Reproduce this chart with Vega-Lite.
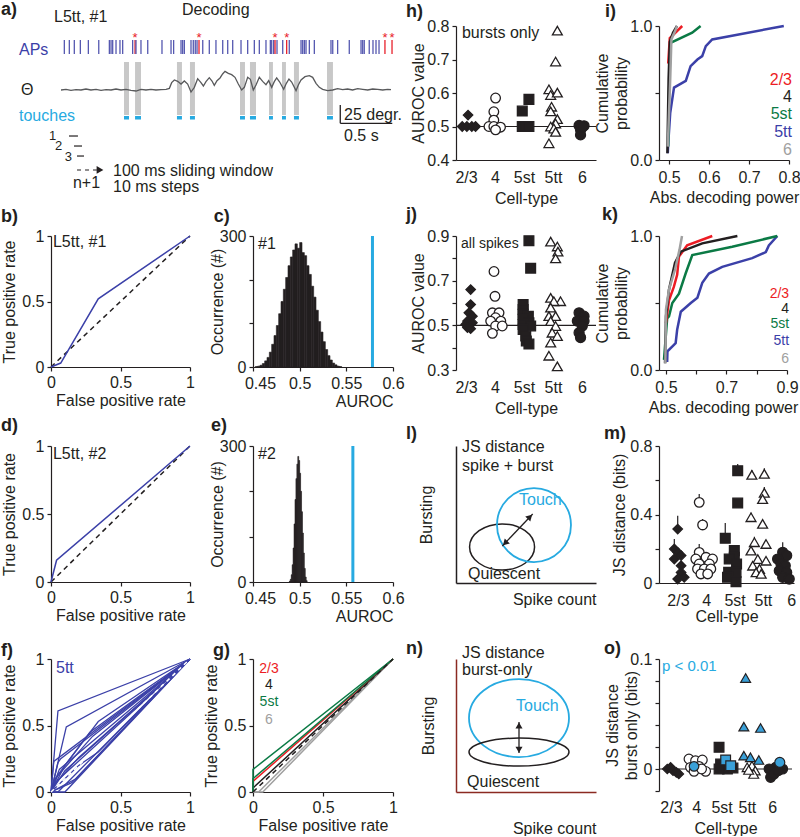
{
"$schema":"https://vega.github.io/schema/vega-lite/v6.json",
"padding":0,
"background":"white",
"columns":4,
"align":"each",
"bounds":"flush",
"spacing":{"row":76,"column":63},
"config":{
 "font":"Liberation Sans",
 "view":{"stroke":null},
 "axis":{"labelFontSize":16,"titleFontSize":16,"titleFontWeight":"normal","labelColor":"#231f20","titleColor":"#231f20","domainColor":"#231f20","tickColor":"#231f20","domainWidth":1.2,"tickWidth":1.2,"tickSize":4,"labelPadding":3,"titlePadding":2,"grid":false,"labelFlush":false,"labelOverlap":false,"titleLineHeight":19},
 "text":{"fontSize":16,"color":"#231f20","align":"left","baseline":"alphabetic"},
 "line":{"strokeWidth":1.5}
},
"datasets":{
 "touchbar":[{"x":0.606,"x2":0.654,"y":38.9,"y2":-34.7},{"x":0.712,"x2":0.769,"y":38.9,"y2":-34.7},{"x":1.115,"x2":1.163,"y":38.9,"y2":-34.7},{"x":1.240,"x2":1.288,"y":38.9,"y2":-34.7},{"x":1.721,"x2":1.769,"y":38.9,"y2":-34.7},{"x":1.817,"x2":1.875,"y":38.9,"y2":-34.7},{"x":2.0,"x2":2.038,"y":38.9,"y2":-34.7},{"x":2.125,"x2":2.163,"y":38.9,"y2":-34.7},{"x":2.240,"x2":2.288,"y":38.9,"y2":-34.7},{"x":2.558,"x2":2.615,"y":38.9,"y2":-34.7}],
 "touchmark":[{"x":0.606,"x2":0.654,"y":-36.1,"y2":-41},{"x":0.712,"x2":0.769,"y":-36.1,"y2":-41},{"x":1.115,"x2":1.163,"y":-36.1,"y2":-41},{"x":1.240,"x2":1.288,"y":-36.1,"y2":-41},{"x":1.721,"x2":1.769,"y":-36.1,"y2":-41},{"x":1.817,"x2":1.875,"y":-36.1,"y2":-41},{"x":2.0,"x2":2.038,"y":-36.1,"y2":-41},{"x":2.125,"x2":2.163,"y":-36.1,"y2":-41},{"x":2.240,"x2":2.288,"y":-36.1,"y2":-41},{"x":2.558,"x2":2.615,"y":-36.1,"y2":-41}],
 "aps":[{"x":0.032,"y":69.4,"y2":50,"burst":false},{"x":0.080,"y":69.4,"y2":50,"burst":false},{"x":0.128,"y":69.4,"y2":50,"burst":false},{"x":0.186,"y":69.4,"y2":50,"burst":false},{"x":0.263,"y":69.4,"y2":50,"burst":false},{"x":0.363,"y":69.4,"y2":50,"burst":false},{"x":0.465,"y":69.4,"y2":50,"burst":false},{"x":0.481,"y":69.4,"y2":50,"burst":false},{"x":0.497,"y":69.4,"y2":50,"burst":false},{"x":0.529,"y":69.4,"y2":50,"burst":false},{"x":0.567,"y":69.4,"y2":50,"burst":false},{"x":0.593,"y":69.4,"y2":50,"burst":false},{"x":0.689,"y":69.4,"y2":50,"burst":false},{"x":0.712,"y":69.4,"y2":50,"burst":true},{"x":0.721,"y":69.4,"y2":50,"burst":false},{"x":0.769,"y":69.4,"y2":50,"burst":false},{"x":0.834,"y":69.4,"y2":50,"burst":false},{"x":0.971,"y":69.4,"y2":50,"burst":false},{"x":1.058,"y":69.4,"y2":50,"burst":false},{"x":1.083,"y":69.4,"y2":50,"burst":false},{"x":1.154,"y":69.4,"y2":50,"burst":false},{"x":1.170,"y":69.4,"y2":50,"burst":false},{"x":1.186,"y":69.4,"y2":50,"burst":false},{"x":1.25,"y":69.4,"y2":50,"burst":false},{"x":1.272,"y":69.4,"y2":50,"burst":false},{"x":1.291,"y":69.4,"y2":50,"burst":false},{"x":1.308,"y":69.4,"y2":50,"burst":false},{"x":1.327,"y":69.4,"y2":50,"burst":true},{"x":1.363,"y":69.4,"y2":50,"burst":false},{"x":1.426,"y":69.4,"y2":50,"burst":false},{"x":1.490,"y":69.4,"y2":50,"burst":false},{"x":1.555,"y":69.4,"y2":50,"burst":false},{"x":1.603,"y":69.4,"y2":50,"burst":false},{"x":1.651,"y":69.4,"y2":50,"burst":false},{"x":1.731,"y":69.4,"y2":50,"burst":false},{"x":1.795,"y":69.4,"y2":50,"burst":false},{"x":1.859,"y":69.4,"y2":50,"burst":false},{"x":1.907,"y":69.4,"y2":50,"burst":false},{"x":1.971,"y":69.4,"y2":50,"burst":false},{"x":2.013,"y":69.4,"y2":50,"burst":false},{"x":2.026,"y":69.4,"y2":50,"burst":false},{"x":2.045,"y":69.4,"y2":50,"burst":false},{"x":2.058,"y":69.4,"y2":50,"burst":true},{"x":2.077,"y":69.4,"y2":50,"burst":false},{"x":2.132,"y":69.4,"y2":50,"burst":false},{"x":2.170,"y":69.4,"y2":50,"burst":true},{"x":2.195,"y":69.4,"y2":50,"burst":false},{"x":2.308,"y":69.4,"y2":50,"burst":false},{"x":2.324,"y":69.4,"y2":50,"burst":false},{"x":2.340,"y":69.4,"y2":50,"burst":false},{"x":2.356,"y":69.4,"y2":50,"burst":false},{"x":2.388,"y":69.4,"y2":50,"burst":false},{"x":2.436,"y":69.4,"y2":50,"burst":false},{"x":2.596,"y":69.4,"y2":50,"burst":false},{"x":2.613,"y":69.4,"y2":50,"burst":false},{"x":2.660,"y":69.4,"y2":50,"burst":false},{"x":2.772,"y":69.4,"y2":50,"burst":false},{"x":2.885,"y":69.4,"y2":50,"burst":false},{"x":2.901,"y":69.4,"y2":50,"burst":false},{"x":2.916,"y":69.4,"y2":50,"burst":false},{"x":2.964,"y":69.4,"y2":50,"burst":false},{"x":3.0,"y":69.4,"y2":50,"burst":false},{"x":3.029,"y":69.4,"y2":50,"burst":false},{"x":3.058,"y":69.4,"y2":50,"burst":false},{"x":3.115,"y":69.4,"y2":50,"burst":true},{"x":3.183,"y":69.4,"y2":50,"burst":true}],
 "stars":[{"x":0.712,"y":66.7},{"x":1.327,"y":66.7},{"x":2.058,"y":66.7},{"x":2.170,"y":66.7},{"x":3.115,"y":66.7},{"x":3.183,"y":66.7}],
 "theta":[{"x":0,"y":0},{"x":0.048,"y":0.9},{"x":0.096,"y":-0.5},{"x":0.144,"y":0.5},{"x":0.192,"y":0},{"x":0.240,"y":1.4},{"x":0.288,"y":0},{"x":0.337,"y":0.9},{"x":0.385,"y":-0.5},{"x":0.433,"y":0.5},{"x":0.481,"y":0},{"x":0.529,"y":1.4},{"x":0.577,"y":0},{"x":0.625,"y":0.9},{"x":0.673,"y":-0.5},{"x":0.721,"y":-1.4},{"x":0.769,"y":0.9},{"x":0.817,"y":0},{"x":0.865,"y":0.9},{"x":0.913,"y":0},{"x":0.962,"y":0.5},{"x":1.010,"y":0.9},{"x":1.042,"y":2.3},{"x":1.064,"y":10.2},{"x":1.090,"y":13.9},{"x":1.122,"y":12.0},{"x":1.154,"y":8.3},{"x":1.186,"y":12.5},{"x":1.218,"y":8.3},{"x":1.25,"y":-2.8},{"x":1.282,"y":3.7},{"x":1.314,"y":15.7},{"x":1.346,"y":10.2},{"x":1.369,"y":5.6},{"x":1.394,"y":11.6},{"x":1.426,"y":17.1},{"x":1.452,"y":12.5},{"x":1.474,"y":6.5},{"x":1.5,"y":13.0},{"x":1.529,"y":16.7},{"x":1.554,"y":22.2},{"x":1.577,"y":25.9},{"x":1.609,"y":23.1},{"x":1.641,"y":21.3},{"x":1.673,"y":17.6},{"x":1.705,"y":8.3},{"x":1.737,"y":0},{"x":1.763,"y":3.7},{"x":1.795,"y":17.6},{"x":1.821,"y":14.8},{"x":1.849,"y":0},{"x":1.875,"y":6.9},{"x":1.907,"y":17.6},{"x":1.939,"y":12.0},{"x":1.971,"y":7.4},{"x":1.997,"y":13.0},{"x":2.026,"y":3.7},{"x":2.051,"y":11.6},{"x":2.074,"y":16.7},{"x":2.103,"y":11.1},{"x":2.141,"y":0.9},{"x":2.167,"y":9.3},{"x":2.192,"y":15.3},{"x":2.218,"y":11.1},{"x":2.260,"y":-0.9},{"x":2.282,"y":6.9},{"x":2.308,"y":13.9},{"x":2.346,"y":18.5},{"x":2.388,"y":19.9},{"x":2.420,"y":17.6},{"x":2.452,"y":9.3},{"x":2.484,"y":3.7},{"x":2.516,"y":0.9},{"x":2.564,"y":-0.9},{"x":2.612,"y":0},{"x":2.660,"y":1.9},{"x":2.708,"y":0.5},{"x":2.756,"y":1.4},{"x":2.804,"y":0},{"x":2.853,"y":1.9},{"x":2.901,"y":0.9},{"x":2.949,"y":0},{"x":2.997,"y":1.4},{"x":3.045,"y":0.9},{"x":3.093,"y":0},{"x":3.141,"y":0.9},{"x":3.173,"y":0.5}],
 "histc":[{"x":0.4525,"x2":0.455,"y":1},{"x":0.455,"x2":0.4575,"y":2},{"x":0.4575,"x2":0.46,"y":4},{"x":0.46,"x2":0.4625,"y":8},{"x":0.4625,"x2":0.465,"y":14},{"x":0.465,"x2":0.4675,"y":22},{"x":0.4675,"x2":0.47,"y":34},{"x":0.47,"x2":0.4725,"y":52},{"x":0.4725,"x2":0.475,"y":72},{"x":0.475,"x2":0.4775,"y":95},{"x":0.4775,"x2":0.48,"y":122},{"x":0.48,"x2":0.4825,"y":150},{"x":0.4825,"x2":0.485,"y":178},{"x":0.485,"x2":0.4875,"y":205},{"x":0.4875,"x2":0.49,"y":232},{"x":0.49,"x2":0.4925,"y":252},{"x":0.4925,"x2":0.495,"y":268},{"x":0.495,"x2":0.4975,"y":282},{"x":0.4975,"x2":0.5,"y":272},{"x":0.5,"x2":0.5025,"y":285},{"x":0.5025,"x2":0.505,"y":262},{"x":0.505,"x2":0.5075,"y":255},{"x":0.5075,"x2":0.51,"y":232},{"x":0.51,"x2":0.5125,"y":212},{"x":0.5125,"x2":0.515,"y":185},{"x":0.515,"x2":0.5175,"y":160},{"x":0.5175,"x2":0.52,"y":130},{"x":0.52,"x2":0.5225,"y":104},{"x":0.5225,"x2":0.525,"y":80},{"x":0.525,"x2":0.5275,"y":58},{"x":0.5275,"x2":0.53,"y":40},{"x":0.53,"x2":0.5325,"y":26},{"x":0.5325,"x2":0.535,"y":16},{"x":0.535,"x2":0.5375,"y":9},{"x":0.5375,"x2":0.54,"y":5},{"x":0.54,"x2":0.5425,"y":2},{"x":0.5425,"x2":0.545,"y":1}],
 "histe":[{"x":0.489,"x2":0.490,"y":2},{"x":0.490,"x2":0.491,"y":6},{"x":0.491,"x2":0.492,"y":16},{"x":0.492,"x2":0.493,"y":38},{"x":0.493,"x2":0.494,"y":75},{"x":0.494,"x2":0.495,"y":128},{"x":0.495,"x2":0.496,"y":182},{"x":0.496,"x2":0.497,"y":228},{"x":0.497,"x2":0.498,"y":260},{"x":0.498,"x2":0.499,"y":277},{"x":0.499,"x2":0.500,"y":268},{"x":0.500,"x2":0.501,"y":240},{"x":0.501,"x2":0.502,"y":200},{"x":0.502,"x2":0.503,"y":155},{"x":0.503,"x2":0.504,"y":108},{"x":0.504,"x2":0.505,"y":64},{"x":0.505,"x2":0.506,"y":30},{"x":0.506,"x2":0.507,"y":11},{"x":0.507,"x2":0.508,"y":3}],
 "rocf":[{"id":1,"x":0,"y":0},{"id":1,"x":0.05,"y":0.61},{"id":1,"x":1,"y":1},{"id":2,"x":0,"y":0},{"id":2,"x":0.11,"y":0.49},{"id":2,"x":1,"y":1},{"id":3,"x":0,"y":0},{"id":3,"x":0.02,"y":0.23},{"id":3,"x":1,"y":1},{"id":4,"x":0,"y":0},{"id":4,"x":0.05,"y":0.22},{"id":4,"x":0.07,"y":0.25},{"id":4,"x":1,"y":1},{"id":5,"x":0,"y":0},{"id":5,"x":0.05,"y":0.13},{"id":5,"x":0.34,"y":0.53},{"id":5,"x":1,"y":1},{"id":6,"x":0,"y":0},{"id":6,"x":0.1,"y":0.2},{"id":6,"x":0.28,"y":0.45},{"id":6,"x":1,"y":1},{"id":7,"x":0,"y":0},{"id":7,"x":0.03,"y":0.1},{"id":7,"x":0.3,"y":0.42},{"id":7,"x":1,"y":1},{"id":8,"x":0,"y":0},{"id":8,"x":0.04,"y":0.08},{"id":8,"x":1,"y":1},{"id":9,"x":0,"y":0},{"id":9,"x":0.1,"y":0.16},{"id":9,"x":1,"y":1},{"id":10,"x":0,"y":0},{"id":10,"x":0.02,"y":0.05},{"id":10,"x":0.2,"y":0.26},{"id":10,"x":1,"y":1},{"id":11,"x":0,"y":0},{"id":11,"x":0.05,"y":0},{"id":11,"x":1,"y":1},{"id":12,"x":0,"y":0},{"id":12,"x":0.1,"y":0},{"id":12,"x":1,"y":1},{"id":13,"x":0,"y":0},{"id":13,"x":0.18,"y":0.1},{"id":13,"x":1,"y":1},{"id":14,"x":0,"y":0},{"id":14,"x":0.06,"y":0.17},{"id":14,"x":1,"y":1},{"id":15,"x":0,"y":0},{"id":15,"x":0.15,"y":0.07},{"id":15,"x":1,"y":1},{"id":16,"x":0,"y":0},{"id":16,"x":0.2,"y":0.2},{"id":16,"x":0.34,"y":0.3},{"id":16,"x":1,"y":1}],
 "rocg":[{"id":"g1","cell":"6","x":0,"y":0},{"id":"g1","cell":"6","x":0.04,"y":0},{"id":"g1","cell":"6","x":1,"y":1},{"id":"g2","cell":"6","x":0,"y":0},{"id":"g2","cell":"6","x":0.07,"y":0},{"id":"g2","cell":"6","x":1,"y":1},{"id":"k1","cell":"4","x":0,"y":0},{"id":"k1","cell":"4","x":0,"y":0.03},{"id":"k1","cell":"4","x":1,"y":1},{"id":"r1","cell":"2/3","x":0,"y":0},{"id":"r1","cell":"2/3","x":0,"y":0.08},{"id":"r1","cell":"2/3","x":1,"y":1},{"id":"s1","cell":"5st","x":0,"y":0},{"id":"s1","cell":"5st","x":0,"y":0.1},{"id":"s1","cell":"5st","x":1,"y":1},{"id":"s2","cell":"5st","x":0,"y":0},{"id":"s2","cell":"5st","x":0,"y":0.17},{"id":"s2","cell":"5st","x":1,"y":1}],
 "hpts":[{"cell":"2/3","x":1.07,"y":0.534},{"cell":"2/3","x":0.87,"y":0.5},{"cell":"2/3","x":1.03,"y":0.5},{"cell":"2/3","x":1.2,"y":0.5},{"cell":"2/3","x":1.33,"y":0.5},{"cell":"4","x":2.02,"y":0.585},{"cell":"4","x":1.96,"y":0.544},{"cell":"4","x":1.96,"y":0.519},{"cell":"4","x":1.79,"y":0.5},{"cell":"4","x":1.96,"y":0.5},{"cell":"4","x":2.19,"y":0.498},{"cell":"4","x":2.02,"y":0.49},{"cell":"5st","x":2.94,"y":0.546},{"cell":"5st","x":3.17,"y":0.581},{"cell":"5st","x":2.94,"y":0.5},{"cell":"5st","x":3.06,"y":0.5},{"cell":"5st","x":3.17,"y":0.5},{"cell":"5tt","x":4.15,"y":0.786},{"cell":"5tt","x":4.09,"y":0.694},{"cell":"5tt","x":3.86,"y":0.611},{"cell":"5tt","x":3.92,"y":0.594},{"cell":"5tt","x":4.15,"y":0.601},{"cell":"5tt","x":3.95,"y":0.559},{"cell":"5tt","x":3.92,"y":0.545},{"cell":"5tt","x":4.15,"y":0.522},{"cell":"5tt","x":4.09,"y":0.509},{"cell":"5tt","x":3.92,"y":0.5},{"cell":"5tt","x":4.03,"y":0.494},{"cell":"5tt","x":4.09,"y":0.484},{"cell":"5tt","x":3.86,"y":0.45},{"cell":"6","x":4.9,"y":0.503},{"cell":"6","x":5.07,"y":0.502},{"cell":"6","x":4.95,"y":0.49},{"cell":"6","x":4.95,"y":0.475},{"cell":"6","x":5.01,"y":0.498}],
 "jpts":[{"cell":"2/3","x":1.16,"y":0.66},{"cell":"2/3","x":1.16,"y":0.593},{"cell":"2/3","x":1.10,"y":0.556},{"cell":"2/3","x":1.22,"y":0.541},{"cell":"2/3","x":1.05,"y":0.519},{"cell":"2/3","x":0.99,"y":0.504},{"cell":"2/3","x":1.22,"y":0.512},{"cell":"2/3","x":1.05,"y":0.49},{"cell":"2/3","x":1.16,"y":0.485},{"cell":"4","x":1.965,"y":0.741},{"cell":"4","x":2.0,"y":0.63},{"cell":"4","x":1.91,"y":0.556},{"cell":"4","x":2.14,"y":0.556},{"cell":"4","x":2.02,"y":0.534},{"cell":"4","x":1.85,"y":0.519},{"cell":"4","x":2.2,"y":0.519},{"cell":"4","x":2.02,"y":0.497},{"cell":"4","x":2.25,"y":0.497},{"cell":"4","x":1.91,"y":0.464},{"cell":"5st","x":3.17,"y":0.879},{"cell":"5st","x":3.23,"y":0.756},{"cell":"5st","x":2.97,"y":0.593},{"cell":"5st","x":2.97,"y":0.571},{"cell":"5st","x":2.97,"y":0.549},{"cell":"5st","x":3.15,"y":0.541},{"cell":"5st","x":2.97,"y":0.527},{"cell":"5st","x":3.17,"y":0.512},{"cell":"5st","x":2.97,"y":0.504},{"cell":"5st","x":3.23,"y":0.497},{"cell":"5st","x":2.97,"y":0.482},{"cell":"5st","x":3.06,"y":0.452},{"cell":"5st","x":3.08,"y":0.43},{"cell":"5st","x":3.17,"y":0.416},{"cell":"5tt","x":3.92,"y":0.875},{"cell":"5tt","x":4.15,"y":0.853},{"cell":"5tt","x":4.17,"y":0.83},{"cell":"5tt","x":4.09,"y":0.80},{"cell":"5tt","x":3.92,"y":0.623},{"cell":"5tt","x":4.26,"y":0.608},{"cell":"5tt","x":4.03,"y":0.608},{"cell":"5tt","x":3.92,"y":0.579},{"cell":"5tt","x":3.86,"y":0.541},{"cell":"5tt","x":4.09,"y":0.541},{"cell":"5tt","x":3.92,"y":0.519},{"cell":"5tt","x":4.09,"y":0.497},{"cell":"5tt","x":3.97,"y":0.467},{"cell":"5tt","x":4.15,"y":0.452},{"cell":"5tt","x":3.92,"y":0.423},{"cell":"5tt","x":3.86,"y":0.364},{"cell":"5tt","x":4.15,"y":0.316},{"cell":"6","x":4.9,"y":0.556},{"cell":"6","x":5.07,"y":0.541},{"cell":"6","x":4.84,"y":0.519},{"cell":"6","x":5.07,"y":0.519},{"cell":"6","x":5.01,"y":0.497},{"cell":"6","x":4.9,"y":0.467},{"cell":"6","x":4.95,"y":0.445}],
 "icdf":[{"cell":"5tt","x":0.497,"y":0.05},{"cell":"5tt","x":0.498,"y":0.12},{"cell":"5tt","x":0.503,"y":0.35},{"cell":"5tt","x":0.5125,"y":0.54},{"cell":"5tt","x":0.542,"y":0.59},{"cell":"5tt","x":0.554,"y":0.70},{"cell":"5tt","x":0.571,"y":0.75},{"cell":"5tt","x":0.583,"y":0.775},{"cell":"5tt","x":0.592,"y":0.85},{"cell":"5tt","x":0.608,"y":0.9},{"cell":"5tt","x":0.787,"y":1.0},{"cell":"5st","x":0.498,"y":0.1},{"cell":"5st","x":0.5,"y":0.5},{"cell":"5st","x":0.504,"y":0.875},{"cell":"5st","x":0.558,"y":0.95},{"cell":"5st","x":0.579,"y":1.0},{"cell":"2/3","x":0.498,"y":0.72},{"cell":"2/3","x":0.502,"y":0.91},{"cell":"2/3","x":0.5125,"y":0.94},{"cell":"2/3","x":0.533,"y":1.0},{"cell":"4","x":0.496,"y":0.05},{"cell":"4","x":0.499,"y":0.6},{"cell":"4","x":0.502,"y":0.88},{"cell":"4","x":0.51,"y":0.95},{"cell":"4","x":0.52,"y":1.0},{"cell":"6","x":0.497,"y":0.1},{"cell":"6","x":0.503,"y":0.6},{"cell":"6","x":0.506,"y":0.9},{"cell":"6","x":0.515,"y":0.96},{"cell":"6","x":0.52,"y":1.0}],
 "kcdf":[{"cell":"5tt","x":0.504,"y":0.06},{"cell":"5tt","x":0.505,"y":0.14},{"cell":"5tt","x":0.532,"y":0.2},{"cell":"5tt","x":0.537,"y":0.3},{"cell":"5tt","x":0.549,"y":0.435},{"cell":"5tt","x":0.582,"y":0.5},{"cell":"5tt","x":0.604,"y":0.54},{"cell":"5tt","x":0.62,"y":0.65},{"cell":"5tt","x":0.642,"y":0.72},{"cell":"5tt","x":0.686,"y":0.77},{"cell":"5tt","x":0.785,"y":0.835},{"cell":"5tt","x":0.83,"y":0.88},{"cell":"5tt","x":0.84,"y":0.93},{"cell":"5tt","x":0.868,"y":1.0},{"cell":"5st","x":0.4935,"y":0.075},{"cell":"5st","x":0.504,"y":0.386},{"cell":"5st","x":0.51,"y":0.4},{"cell":"5st","x":0.521,"y":0.5},{"cell":"5st","x":0.543,"y":0.57},{"cell":"5st","x":0.565,"y":0.72},{"cell":"5st","x":0.587,"y":0.858},{"cell":"5st","x":0.719,"y":0.92},{"cell":"5st","x":0.868,"y":1.0},{"cell":"2/3","x":0.5,"y":0.35},{"cell":"2/3","x":0.51,"y":0.52},{"cell":"2/3","x":0.526,"y":0.62},{"cell":"2/3","x":0.537,"y":0.71},{"cell":"2/3","x":0.543,"y":0.846},{"cell":"2/3","x":0.57,"y":0.93},{"cell":"2/3","x":0.653,"y":1.0},{"cell":"4","x":0.497,"y":0.05},{"cell":"4","x":0.5,"y":0.4},{"cell":"4","x":0.51,"y":0.6},{"cell":"4","x":0.53,"y":0.8},{"cell":"4","x":0.549,"y":0.883},{"cell":"4","x":0.62,"y":0.945},{"cell":"4","x":0.736,"y":1.0},{"cell":"6","x":0.498,"y":0.05},{"cell":"6","x":0.5,"y":0.45},{"cell":"6","x":0.51,"y":0.6},{"cell":"6","x":0.53,"y":0.75},{"cell":"6","x":0.545,"y":0.9},{"cell":"6","x":0.553,"y":1.0}],
 "mpts":[{"cell":"2/3","x":0.99,"y":0.315},{"cell":"2/3","x":0.87,"y":0.199},{"cell":"2/3","x":0.99,"y":0.179},{"cell":"2/3","x":0.87,"y":0.14},{"cell":"2/3","x":1.11,"y":0.16},{"cell":"2/3","x":1.11,"y":0.101},{"cell":"2/3","x":1.11,"y":0.062},{"cell":"2/3","x":0.99,"y":0.023},{"cell":"2/3","x":1.22,"y":0.033},{"cell":"4","x":1.75,"y":0.471},{"cell":"4","x":1.87,"y":0.339},{"cell":"4","x":1.75,"y":0.179},{"cell":"4","x":1.99,"y":0.15},{"cell":"4","x":1.63,"y":0.14},{"cell":"4","x":2.22,"y":0.14},{"cell":"4","x":1.75,"y":0.111},{"cell":"4","x":2.11,"y":0.111},{"cell":"4","x":1.69,"y":0.082},{"cell":"4","x":1.93,"y":0.082},{"cell":"4","x":2.16,"y":0.082},{"cell":"4","x":1.81,"y":0.053},{"cell":"4","x":2.05,"y":0.053},{"cell":"5st","x":3.11,"y":0.656},{"cell":"5st","x":3.11,"y":0.467},{"cell":"5st","x":2.67,"y":0.261},{"cell":"5st","x":2.99,"y":0.189},{"cell":"5st","x":2.99,"y":0.15},{"cell":"5st","x":2.81,"y":0.14},{"cell":"5st","x":3.07,"y":0.111},{"cell":"5st","x":2.79,"y":0.062},{"cell":"5st","x":3.05,"y":0.062},{"cell":"5st","x":2.75,"y":0.033},{"cell":"5st","x":3.05,"y":0.008},{"cell":"5tt","x":3.61,"y":0.631},{"cell":"5tt","x":4.05,"y":0.637},{"cell":"5tt","x":4.05,"y":0.526},{"cell":"5tt","x":3.99,"y":0.49},{"cell":"5tt","x":3.58,"y":0.384},{"cell":"5tt","x":3.99,"y":0.345},{"cell":"5tt","x":3.70,"y":0.238},{"cell":"5tt","x":4.11,"y":0.228},{"cell":"5tt","x":3.58,"y":0.189},{"cell":"5tt","x":3.82,"y":0.14},{"cell":"5tt","x":4.11,"y":0.13},{"cell":"5tt","x":3.64,"y":0.101},{"cell":"5tt","x":3.88,"y":0.082},{"cell":"5tt","x":3.76,"y":0.062},{"cell":"5tt","x":3.94,"y":0.053},{"cell":"6","x":4.70,"y":0.179},{"cell":"6","x":4.84,"y":0.16},{"cell":"6","x":4.52,"y":0.14},{"cell":"6","x":4.64,"y":0.111},{"cell":"6","x":4.79,"y":0.101},{"cell":"6","x":4.58,"y":0.072},{"cell":"6","x":4.84,"y":0.062},{"cell":"6","x":4.70,"y":0.033},{"cell":"6","x":4.93,"y":0.023}],
 "merr":[{"x":0.99,"y":0.315,"y2":0.393},{"x":0.87,"y":0.199,"y2":0.257},{"x":1.75,"y":0.471,"y2":0.52},{"x":1.87,"y":0.339,"y2":0.374},{"x":1.75,"y":0.179,"y2":0.228},{"x":3.11,"y":0.656,"y2":0.695},{"x":3.11,"y":0.467,"y2":0.49},{"x":2.67,"y":0.261,"y2":0.35},{"x":3.61,"y":0.631,"y2":0.66},{"x":4.05,"y":0.637,"y2":0.67},{"x":4.05,"y":0.526,"y2":0.56},{"x":3.58,"y":0.384,"y2":0.41},{"x":4.70,"y":0.179,"y2":0.238},{"x":3.70,"y":0.238,"y2":0.27}],
 "opts":[{"cell":"2/3","x":0.854,"y":0,"sig":false},{"cell":"2/3","x":0.985,"y":0.0015,"sig":false},{"cell":"2/3","x":1.08,"y":-0.0015,"sig":false},{"cell":"2/3","x":1.21,"y":-0.003,"sig":false},{"cell":"2/3","x":1.31,"y":-0.0045,"sig":false},{"cell":"4","x":1.71,"y":0.0091,"sig":false},{"cell":"4","x":1.97,"y":0.0076,"sig":false},{"cell":"4","x":2.24,"y":0.0082,"sig":false},{"cell":"4","x":1.77,"y":0.0015,"sig":false},{"cell":"4","x":2.11,"y":0.0024,"sig":false},{"cell":"4","x":2.37,"y":-0.0021,"sig":false},{"cell":"4","x":1.91,"y":-0.0021,"sig":false},{"cell":"4","x":2.21,"y":0,"sig":false},{"cell":"5st","x":2.90,"y":0.0197,"sig":false},{"cell":"5st","x":2.96,"y":0.0045,"sig":false},{"cell":"5st","x":3.03,"y":0.0009,"sig":false},{"cell":"5st","x":3.23,"y":0,"sig":false},{"cell":"5st","x":3.45,"y":0.0009,"sig":false},{"cell":"5st","x":2.90,"y":0,"sig":false},{"cell":"5tt","x":4.20,"y":0.003,"sig":false},{"cell":"5tt","x":4.01,"y":0.0015,"sig":false},{"cell":"5tt","x":4.33,"y":-0.0015,"sig":false},{"cell":"5tt","x":4.27,"y":-0.0045,"sig":false},{"cell":"5tt","x":4.07,"y":-0.0009,"sig":false},{"cell":"6","x":5.14,"y":0.0015,"sig":false},{"cell":"6","x":4.88,"y":0,"sig":false},{"cell":"6","x":5.41,"y":0,"sig":false},{"cell":"6","x":4.94,"y":-0.0076,"sig":false},{"cell":"6","x":5.07,"y":-0.0045,"sig":false},{"cell":"6","x":5.24,"y":-0.0015,"sig":false},{"cell":"4","x":1.91,"y":0.0024,"sig":true},{"cell":"5st","x":3.16,"y":0.0082,"sig":true},{"cell":"5st","x":3.36,"y":0.003,"sig":true},{"cell":"5tt","x":3.95,"y":0.0827,"sig":true},{"cell":"5tt","x":3.88,"y":0.0385,"sig":true},{"cell":"5tt","x":4.54,"y":0.0373,"sig":true},{"cell":"5tt","x":3.88,"y":0.0121,"sig":true},{"cell":"5tt","x":4.14,"y":0.0106,"sig":true},{"cell":"5tt","x":4.47,"y":0.0082,"sig":true},{"cell":"6","x":5.30,"y":0.006,"sig":true}]
},
"concat":[
 {
  "width":139,"height":134,
  "encoding":{
   "x":{"field":"x","type":"quantitative","scale":{"domain":[-0.0962,1.2404],"nice":false,"zero":false},"axis":null},
   "y":{"field":"y","type":"quantitative","scale":{"domain":[-97.22,88.89],"nice":false,"zero":false},"axis":null}
  },
  "layer":[
   {"data":{"name":"touchbar"},"mark":{"type":"rect","color":"#c8c8c8"},"encoding":{"x2":{"field":"x2"},"y2":{"field":"y2"}}},
   {"data":{"name":"theta"},"mark":{"type":"line","color":"#58595b","strokeWidth":1.3}},
   {"data":{"name":"touchmark"},"mark":{"type":"rect","color":"#27aae1"},"encoding":{"x2":{"field":"x2"},"y2":{"field":"y2"}}},
   {"data":{"name":"aps"},"mark":{"type":"rule","strokeWidth":1.3},"encoding":{"y2":{"field":"y2"},"color":{"condition":{"test":"datum.burst","value":"#e8202a"},"value":"#5558b0"}}},
   {"data":{"name":"stars"},"mark":{"type":"text","text":"*","align":"center","fontSize":13,"color":"#e8202a"}},
   {"data":{"values":[{"x":0.077,"x2":0.163,"y":-63.9},{"x":0.125,"x2":0.202,"y":-77.8},{"x":0.154,"x2":0.221,"y":-91.7}]},"mark":{"type":"rule","color":"#231f20","strokeWidth":1.2},"encoding":{"x2":{"field":"x2"}}},
   {"data":{"values":[{"x":0.154,"x2":0.345,"y":-111.1}]},"mark":{"type":"rule","color":"#231f20","strokeWidth":1.2,"strokeDash":[4,4]},"encoding":{"x2":{"field":"x2"}}},
   {"data":{"values":[{"x":0.375,"y":-111.1}]},"mark":{"type":"point","shape":"triangle-right","filled":true,"size":60,"color":"#231f20","opacity":1}},
   {"data":{"values":[{"x":1.163,"y":104.2,"label":"Decoding"},{"x":-0.067,"y":94.4,"label":"L5tt, #1"},{"x":-0.385,"y":-6.9,"label":"Θ"},{"x":0.115,"y":-136.1,"label":"n+1"},{"x":0.5,"y":-119.4,"label":"100 ms sliding window"},{"x":0.5,"y":-141.7,"label":"10 ms steps"}]},"mark":{"type":"text"},"encoding":{"text":{"field":"label"}}},
   {"data":{"values":[{"x":-0.115,"y":-69.4,"label":"1"},{"x":-0.057,"y":-83.3,"label":"2"},{"x":0.035,"y":-98.6,"label":"3"}]},"mark":{"type":"text","fontSize":13},"encoding":{"text":{"field":"label"}}},
   {"data":{"values":[{"x":-0.404,"y":48.6,"label":"APs"}]},"mark":{"type":"text","color":"#3b40a8"},"encoding":{"text":{"field":"label"}}},
   {"data":{"values":[{"x":-0.404,"y":-43.1,"label":"touches"}]},"mark":{"type":"text","color":"#27aae1"},"encoding":{"text":{"field":"label"}}},
   {"data":{"values":[{"x":-0.577,"y":104.2,"label":"a)"}]},"mark":{"type":"text","fontWeight":"bold","fontSize":18},"encoding":{"text":{"field":"label"}}}
  ]
 },
 {
  "width":140,"height":134,
  "encoding":{
   "x":{"field":"x","type":"quantitative","scale":{"domain":[0,1.346],"nice":false,"zero":false},"axis":null},
   "y":{"field":"y","type":"quantitative","scale":{"domain":[0,186.1],"nice":false,"zero":false},"axis":null}
  },
  "layer":[
   {"data":{"values":[{"x":0.839,"x2":0.839,"y":76.4,"y2":51.0},{"x":0.839,"x2":1.339,"y":51.0,"y2":51.0}]},"mark":{"type":"rule","color":"#231f20","strokeWidth":1.3},"encoding":{"x2":{"field":"x2"},"y2":{"field":"y2"}}},
   {"data":{"values":[{"x":0.875,"y":55.6,"label":"25 degr."},{"x":0.875,"y":26.4,"label":"0.5 s"}]},"mark":{"type":"text"},"encoding":{"text":{"field":"label"}}}
  ]
 },
 {
  "width":140,"height":134,
  "encoding":{
   "x":{"field":"x","type":"quantitative","scale":{"domain":[0.655,5.483],"nice":false,"zero":false},"axis":{"values":[1,2,3,4,5],"labelExpr":"['','2/3','4','5st','5tt','6'][datum.value]","ticks":false,"labelPadding":9,"titlePadding":5,"title":"Cell-type"}},
   "y":{"field":"y","type":"quantitative","scale":{"domain":[0.4,0.8],"nice":false,"zero":false},"axis":{"values":[0.4,0.5,0.6,0.7,0.8],"format":".1f","title":"AUROC value","titlePadding":0}}
  },
  "layer":[
   {"data":{"values":[{"x":0.655,"x2":5.483,"y":0.5}]},"mark":{"type":"rule","color":"#231f20","strokeWidth":1.2},"encoding":{"x2":{"field":"x2"}}},
   {"data":{"name":"hpts"},"mark":{"type":"point","filled":true,"stroke":"#231f20","strokeWidth":1.3,"opacity":1},"encoding":{
     "shape":{"field":"cell","type":"nominal","scale":{"domain":["2/3","4","5st","5tt","6"],"range":["diamond","circle","square","triangle-up","circle"]},"legend":null},
     "fill":{"field":"cell","type":"nominal","scale":{"domain":["2/3","4","5st","5tt","6"],"range":["#231f20","#ffffff","#231f20","#ffffff","#231f20"]},"legend":null},
     "size":{"field":"cell","type":"ordinal","scale":{"domain":["2/3","4","5st","5tt","6"],"range":[90,100,90,130,100]},"legend":null}}},
   {"data":{"values":[{"x":0.86,"y":0.764,"label":"bursts only"}]},"mark":{"type":"text"},"encoding":{"text":{"field":"label"}}},
   {"data":{"values":[{"x":-1.069,"y":0.827,"label":"h)"}]},"mark":{"type":"text","fontWeight":"bold","fontSize":18},"encoding":{"text":{"field":"label"}}}
  ]
 },
 {
  "width":130,"height":134,
  "encoding":{
   "x":{"field":"x","type":"quantitative","scale":{"domain":[0.475,0.8],"nice":false,"zero":false},"axis":{"values":[0.5,0.6,0.7,0.8],"format":".1f","title":"Abs. decoding power","labelPadding":5,"titlePadding":4}},
   "y":{"field":"y","type":"quantitative","scale":{"domain":[0,1],"nice":false,"zero":false},"axis":{"values":[0,0.5,1],"labelExpr":"datum.value == 0.5 ? '' : datum.label","title":["Cumulative","probability"],"titlePadding":0}}
  },
  "layer":[
   {"data":{"name":"icdf"},"mark":{"type":"line","strokeWidth":2.5},"encoding":{"color":{"field":"cell","type":"nominal","scale":{"domain":["2/3","4","5st","5tt","6"],"range":["#ec1c24","#231f20","#0b7a45","#3b40a8","#a0a0a0"]},"legend":null}}},
   {"data":{"values":[{"x":0.8075,"y":0.56,"label":"2/3","cell":"2/3"},{"x":0.8075,"y":0.433,"label":"4","cell":"4"},{"x":0.8075,"y":0.305,"label":"5st","cell":"5st"},{"x":0.8075,"y":0.172,"label":"5tt","cell":"5tt"},{"x":0.8075,"y":0.037,"label":"6","cell":"6"}]},"mark":{"type":"text","align":"right","fontSize":16},"encoding":{"text":{"field":"label"},"color":{"field":"cell","type":"nominal","legend":null}}},
   {"data":{"values":[{"x":0.34,"y":1.067,"label":"i)"}]},"mark":{"type":"text","fontWeight":"bold","fontSize":18},"encoding":{"text":{"field":"label"}}}
  ]
 },
 {
  "width":139,"height":131,
  "encoding":{
   "x":{"field":"x","type":"quantitative","scale":{"domain":[0,1],"nice":false,"zero":false},"axis":{"values":[0,0.5,1],"format":"~g","title":"False positive rate"}},
   "y":{"field":"y","type":"quantitative","scale":{"domain":[0,1],"nice":false,"zero":false},"axis":{"values":[0,0.5,1],"format":"~g","title":"True positive rate","titlePadding":4}}
  },
  "layer":[
   {"data":{"values":[{"x":0,"y":0},{"x":1,"y":1}]},"mark":{"type":"line","color":"#231f20","strokeDash":[5,4],"strokeWidth":1.5}},
   {"data":{"values":[{"x":0,"y":0},{"x":0.07,"y":0.03},{"x":0.34,"y":0.52},{"x":1,"y":1}]},"mark":{"type":"line","color":"#3b40a8","strokeWidth":1.5}},
   {"data":{"values":[{"x":0.014,"y":0.916,"label":"L5tt, #1"}]},"mark":{"type":"text"},"encoding":{"text":{"field":"label"}}},
   {"data":{"values":[{"x":-0.36,"y":1.107,"label":"b)"}]},"mark":{"type":"text","fontWeight":"bold","fontSize":18},"encoding":{"text":{"field":"label"}}}
  ]
 },
 {
  "width":140,"height":131,
  "encoding":{
   "x":{"field":"x","type":"quantitative","scale":{"domain":[0.45,0.6],"nice":false,"zero":false},"axis":{"values":[0.45,0.5,0.55,0.6],"format":"~g","title":"AUROC","titleAnchor":"end","labelPadding":4,"labelOffset":{"condition":{"test":"datum.value == 0.45","value":7},"value":0}}},
   "y":{"field":"y","type":"quantitative","scale":{"domain":[0,300],"nice":false,"zero":false},"axis":{"values":[0,100,200,300],"labelExpr":"datum.value == 0 || datum.value == 300 ? datum.label : ''","title":"Occurrence (#)","titlePadding":-6}}
  },
  "layer":[
   {"data":{"name":"histc"},"mark":{"type":"rect","color":"#231f20","stroke":"#231f20","strokeWidth":0.6},"encoding":{"x2":{"field":"x2"},"y2":{"datum":0}}},
   {"data":{"values":[{"x":0.578,"y":0,"y2":300}]},"mark":{"type":"rule","color":"#27aae1","strokeWidth":3},"encoding":{"y2":{"field":"y2"}}},
   {"data":{"values":[{"x":0.4554,"y":270,"label":"#1"}]},"mark":{"type":"text"},"encoding":{"text":{"field":"label"}}},
   {"data":{"values":[{"x":0.408,"y":332,"label":"c)"}]},"mark":{"type":"text","fontWeight":"bold","fontSize":18},"encoding":{"text":{"field":"label"}}}
  ]
 },
 {
  "width":140,"height":134,
  "encoding":{
   "x":{"field":"x","type":"quantitative","scale":{"domain":[0.655,5.483],"nice":false,"zero":false},"axis":{"values":[1,2,3,4,5],"labelExpr":"['','2/3','4','5st','5tt','6'][datum.value]","ticks":false,"domain":false,"labelPadding":9,"titlePadding":5,"title":"Cell-type"}},
   "y":{"field":"y","type":"quantitative","scale":{"domain":[0.3,0.9],"nice":false,"zero":false},"axis":{"values":[0.3,0.4,0.5,0.6,0.7,0.8,0.9],"labelExpr":"round(datum.value*10) % 2 == 1 ? format(datum.value, '.1f') : ''","title":"AUROC value","titlePadding":0}}
  },
  "layer":[
   {"data":{"values":[{"x":0.655,"x2":5.483,"y":0.5}]},"mark":{"type":"rule","color":"#231f20","strokeWidth":1.2},"encoding":{"x2":{"field":"x2"}}},
   {"data":{"name":"jpts"},"mark":{"type":"point","filled":true,"stroke":"#231f20","strokeWidth":1.3,"opacity":1},"encoding":{
     "shape":{"field":"cell","type":"nominal","scale":{"domain":["2/3","4","5st","5tt","6"],"range":["diamond","circle","square","triangle-up","circle"]},"legend":null},
     "fill":{"field":"cell","type":"nominal","scale":{"domain":["2/3","4","5st","5tt","6"],"range":["#231f20","#ffffff","#231f20","#ffffff","#231f20"]},"legend":null},
     "size":{"field":"cell","type":"ordinal","scale":{"domain":["2/3","4","5st","5tt","6"],"range":[90,100,90,130,100]},"legend":null}}},
   {"data":{"values":[{"x":0.83,"y":0.846,"label":"all spikes"}]},"mark":{"type":"text","fontSize":14},"encoding":{"text":{"field":"label"}}},
   {"data":{"values":[{"x":-1.069,"y":0.972,"label":"j)"}]},"mark":{"type":"text","fontWeight":"bold","fontSize":18},"encoding":{"text":{"field":"label"}}}
  ]
 },
 {
  "width":128,"height":134,
  "encoding":{
   "x":{"field":"x","type":"quantitative","scale":{"domain":[0.477,0.9],"nice":false,"zero":false},"axis":{"values":[0.5,0.6,0.7,0.8,0.9],"labelExpr":"datum.value == 0.6 || datum.value == 0.8 ? '' : format(datum.value, '.1f')","title":"Abs. decoding power","labelPadding":5,"titlePadding":4}},
   "y":{"field":"y","type":"quantitative","scale":{"domain":[0,1],"nice":false,"zero":false},"axis":{"values":[0,0.5,1],"labelExpr":"datum.value == 0.5 ? '' : datum.label","title":["Cumulative","probability"],"titlePadding":0}}
  },
  "layer":[
   {"data":{"name":"kcdf"},"mark":{"type":"line","strokeWidth":2.5},"encoding":{"color":{"field":"cell","type":"nominal","scale":{"domain":["2/3","4","5st","5tt","6"],"range":["#ec1c24","#231f20","#0b7a45","#3b40a8","#a0a0a0"]},"legend":null}}},
   {"data":{"values":[{"x":0.907,"y":0.537,"label":"2/3","cell":"2/3"},{"x":0.907,"y":0.425,"label":"4","cell":"4"},{"x":0.907,"y":0.313,"label":"5st","cell":"5st"},{"x":0.907,"y":0.187,"label":"5tt","cell":"5tt"},{"x":0.907,"y":0.052,"label":"6","cell":"6"}]},"mark":{"type":"text","align":"right","fontSize":14},"encoding":{"text":{"field":"label"},"color":{"field":"cell","type":"nominal","legend":null}}},
   {"data":{"values":[{"x":0.289,"y":1.119,"label":"k)"}]},"mark":{"type":"text","fontWeight":"bold","fontSize":18},"encoding":{"text":{"field":"label"}}}
  ]
 },
 {
  "width":139,"height":136,
  "encoding":{
   "x":{"field":"x","type":"quantitative","scale":{"domain":[0,1],"nice":false,"zero":false},"axis":{"values":[0,0.5,1],"format":"~g","title":"False positive rate"}},
   "y":{"field":"y","type":"quantitative","scale":{"domain":[0,1],"nice":false,"zero":false},"axis":{"values":[0,0.5,1],"format":"~g","title":"True positive rate","titlePadding":4}}
  },
  "layer":[
   {"data":{"values":[{"x":0,"y":0},{"x":1,"y":1}]},"mark":{"type":"line","color":"#231f20","strokeDash":[5,4],"strokeWidth":1.5}},
   {"data":{"values":[{"x":0,"y":0},{"x":0.04,"y":0.16},{"x":1,"y":1}]},"mark":{"type":"line","color":"#3b40a8","strokeWidth":1.5}},
   {"data":{"values":[{"x":0.014,"y":0.904,"label":"L5tt, #2"}]},"mark":{"type":"text"},"encoding":{"text":{"field":"label"}}},
   {"data":{"values":[{"x":-0.36,"y":1.11,"label":"d)"}]},"mark":{"type":"text","fontWeight":"bold","fontSize":18},"encoding":{"text":{"field":"label"}}}
  ]
 },
 {
  "width":140,"height":136,
  "encoding":{
   "x":{"field":"x","type":"quantitative","scale":{"domain":[0.45,0.6],"nice":false,"zero":false},"axis":{"values":[0.45,0.5,0.55,0.6],"format":"~g","title":"AUROC","titleAnchor":"end","labelPadding":4,"labelOffset":{"condition":{"test":"datum.value == 0.45","value":7},"value":0}}},
   "y":{"field":"y","type":"quantitative","scale":{"domain":[0,300],"nice":false,"zero":false},"axis":{"values":[0,100,200,300],"labelExpr":"datum.value == 0 || datum.value == 300 ? datum.label : ''","title":"Occurrence (#)","titlePadding":-6}}
  },
  "layer":[
   {"data":{"name":"histe"},"mark":{"type":"rect","color":"#231f20","stroke":"#231f20","strokeWidth":0.6},"encoding":{"x2":{"field":"x2"},"y2":{"datum":0}}},
   {"data":{"values":[{"x":0.557,"y":0,"y2":300}]},"mark":{"type":"rule","color":"#27aae1","strokeWidth":3},"encoding":{"y2":{"field":"y2"}}},
   {"data":{"values":[{"x":0.4554,"y":271,"label":"#2"}]},"mark":{"type":"text"},"encoding":{"text":{"field":"label"}}},
   {"data":{"values":[{"x":0.405,"y":333,"label":"e)"}]},"mark":{"type":"text","fontWeight":"bold","fontSize":18},"encoding":{"text":{"field":"label"}}}
  ]
 },
 {
  "width":140,"height":137,
  "encoding":{
   "x":{"field":"x","type":"quantitative","scale":{"domain":[0,1],"nice":false,"zero":false},"axis":{"ticks":false,"labels":false,"title":"Spike count","titleAnchor":"end","titlePadding":8,"domainWidth":1.5}},
   "y":{"field":"y","type":"quantitative","scale":{"domain":[0,1],"nice":false,"zero":false},"axis":{"ticks":false,"labels":false,"title":"Bursting","titlePadding":22,"domainWidth":1.5}}
  },
  "layer":[
   {"data":{"values":[{"x":0.329,"y":0.263}]},"mark":{"type":"point","shape":"M -1 0 A 1 0.708 0 1 1 1 0 A 1 0.708 0 1 1 -1 0 Z","size":4225,"filled":false,"stroke":"#231f20","strokeWidth":1.5,"opacity":1}},
   {"data":{"values":[{"x":0.557,"y":0.423}]},"mark":{"type":"point","shape":"circle","size":5476,"filled":false,"stroke":"#27aae1","strokeWidth":1.8,"opacity":1}},
   {"data":{"values":[{"x":0.331,"y":0.27},{"x":0.548,"y":0.504}]},"mark":{"type":"line","color":"#231f20","strokeWidth":1.3}},
   {"data":{"values":[{"x":0.528,"y":0.483}]},"mark":{"type":"point","shape":"triangle-up","angle":44,"filled":true,"size":50,"color":"#231f20","opacity":1}},
   {"data":{"values":[{"x":0.351,"y":0.291}]},"mark":{"type":"point","shape":"triangle-up","angle":224,"filled":true,"size":50,"color":"#231f20","opacity":1}},
   {"data":{"values":[{"x":0.043,"y":0.956,"label":"JS distance"},{"x":0.043,"y":0.818,"label":"spike + burst"},{"x":0.086,"y":0.029,"label":"Quiescent"}]},"mark":{"type":"text"},"encoding":{"text":{"field":"label"}}},
   {"data":{"values":[{"x":0.45,"y":0.569,"label":"Touch"}]},"mark":{"type":"text","color":"#27aae1"},"encoding":{"text":{"field":"label"}}},
   {"data":{"values":[{"x":-0.357,"y":1.051,"label":"l)"}]},"mark":{"type":"text","fontWeight":"bold","fontSize":18},"encoding":{"text":{"field":"label"}}}
  ]
 },
 {
  "width":135,"height":137,
  "encoding":{
   "x":{"field":"x","type":"quantitative","scale":{"domain":[0.329,5.099],"nice":false,"zero":false},"axis":{"values":[1,2,3,4,5],"labelExpr":"['','2/3','4','5st','5tt','6'][datum.value]","ticks":false,"labelPadding":9,"titlePadding":0,"title":"Cell-type"}},
   "y":{"field":"y","type":"quantitative","scale":{"domain":[0,0.8],"nice":false,"zero":false},"axis":{"values":[0,0.2,0.4,0.6,0.8],"labelExpr":"datum.value == 0 ? '0' : (datum.value == 0.4 ? '0.4' : (datum.value == 0.8 ? '0.8' : ''))","title":"JS distance (bits)","titlePadding":2}}
  },
  "layer":[
   {"data":{"name":"merr"},"mark":{"type":"rule","color":"#231f20","strokeWidth":1.2},"encoding":{"y2":{"field":"y2"}}},
   {"data":{"name":"mpts"},"mark":{"type":"point","filled":true,"stroke":"#231f20","strokeWidth":1.3,"opacity":1},"encoding":{
     "shape":{"field":"cell","type":"nominal","scale":{"domain":["2/3","4","5st","5tt","6"],"range":["diamond","circle","square","triangle-up","circle"]},"legend":null},
     "fill":{"field":"cell","type":"nominal","scale":{"domain":["2/3","4","5st","5tt","6"],"range":["#231f20","#ffffff","#231f20","#ffffff","#231f20"]},"legend":null},
     "size":{"field":"cell","type":"ordinal","scale":{"domain":["2/3","4","5st","5tt","6"],"range":[90,100,90,130,100]},"legend":null}}},
   {"data":{"values":[{"x":-1.614,"y":0.841,"label":"m)"}]},"mark":{"type":"text","fontWeight":"bold","fontSize":18},"encoding":{"text":{"field":"label"}}}
  ]
 },
 {
  "width":139,"height":133,
  "encoding":{
   "x":{"field":"x","type":"quantitative","scale":{"domain":[0,1],"nice":false,"zero":false},"axis":{"values":[0,0.5,1],"format":"~g","title":"False positive rate"}},
   "y":{"field":"y","type":"quantitative","scale":{"domain":[0,1],"nice":false,"zero":false},"axis":{"values":[0,0.5,1],"format":"~g","title":"True positive rate","titlePadding":4}}
  },
  "layer":[
   {"data":{"name":"rocf"},"mark":{"type":"line","color":"#3b40a8","strokeWidth":1.3},"encoding":{"detail":{"field":"id","type":"nominal"}}},
   {"data":{"values":[{"x":0,"y":0},{"x":1,"y":1}]},"mark":{"type":"line","color":"#ffffff","strokeDash":[4,4],"strokeWidth":1.5}},
   {"data":{"values":[{"x":0.036,"y":0.895,"label":"5tt"}]},"mark":{"type":"text","color":"#3b40a8"},"encoding":{"text":{"field":"label"}}},
   {"data":{"values":[{"x":-0.36,"y":1.023,"label":"f)"}]},"mark":{"type":"text","fontWeight":"bold","fontSize":18},"encoding":{"text":{"field":"label"}}}
  ]
 },
 {
  "width":140,"height":133,
  "encoding":{
   "x":{"field":"x","type":"quantitative","scale":{"domain":[0,1],"nice":false,"zero":false},"axis":{"values":[0,0.5,1],"format":"~g","title":"False positive rate"}},
   "y":{"field":"y","type":"quantitative","scale":{"domain":[0,1],"nice":false,"zero":false},"axis":{"values":[0,0.5,1],"format":"~g","title":"True positive rate","titlePadding":4}}
  },
  "layer":[
   {"data":{"name":"rocg"},"mark":{"type":"line","strokeWidth":1.5},"encoding":{"detail":{"field":"id","type":"nominal"},"color":{"field":"cell","type":"nominal","scale":{"domain":["2/3","4","5st","5tt","6"],"range":["#ec1c24","#231f20","#0b7a45","#3b40a8","#a0a0a0"]},"legend":null}}},
   {"data":{"values":[{"x":0,"y":0},{"x":1,"y":1}]},"mark":{"type":"line","color":"#231f20","strokeDash":[5,4],"strokeWidth":1.5}},
   {"data":{"values":[{"x":0.114,"y":0.895,"label":"2/3","cell":"2/3"},{"x":0.114,"y":0.777,"label":"4","cell":"4"},{"x":0.114,"y":0.647,"label":"5st","cell":"5st"},{"x":0.114,"y":0.511,"label":"6","cell":"6"}]},"mark":{"type":"text","align":"center","fontSize":14},"encoding":{"text":{"field":"label"},"color":{"field":"cell","type":"nominal","legend":null}}},
   {"data":{"values":[{"x":-0.286,"y":1.023,"label":"g)"}]},"mark":{"type":"text","fontWeight":"bold","fontSize":18},"encoding":{"text":{"field":"label"}}}
  ]
 },
 {
  "width":140,"height":133,
  "encoding":{
   "x":{"field":"x","type":"quantitative","scale":{"domain":[0,1],"nice":false,"zero":false},"axis":{"ticks":false,"labels":false,"title":"Spike count","titleAnchor":"end","titlePadding":28,"domainWidth":1.5,"domainColor":"#8b2a22"}},
   "y":{"field":"y","type":"quantitative","scale":{"domain":[0,1],"nice":false,"zero":false},"axis":{"ticks":false,"labels":false,"title":"Bursting","titlePadding":20,"domainWidth":1.5,"domainColor":"#8b2a22"}}
  },
  "layer":[
   {"data":{"values":[{"x":0.45,"y":0.556}]},"mark":{"type":"point","shape":"M -1 0 A 1 0.78 0 1 1 1 0 A 1 0.78 0 1 1 -1 0 Z","size":10000,"filled":false,"stroke":"#27aae1","strokeWidth":1.8,"opacity":1}},
   {"data":{"values":[{"x":0.45,"y":0.30}]},"mark":{"type":"point","shape":"M -1 0 A 1 0.28 0 1 1 1 0 A 1 0.28 0 1 1 -1 0 Z","size":10000,"filled":false,"stroke":"#231f20","strokeWidth":1.5,"opacity":1}},
   {"data":{"values":[{"x":0.45,"y":0.293},{"x":0.45,"y":0.526}]},"mark":{"type":"line","color":"#231f20","strokeWidth":1.3}},
   {"data":{"values":[{"x":0.45,"y":0.50}]},"mark":{"type":"point","shape":"triangle-up","filled":true,"size":50,"color":"#231f20","opacity":1}},
   {"data":{"values":[{"x":0.45,"y":0.318}]},"mark":{"type":"point","shape":"triangle-down","filled":true,"size":50,"color":"#231f20","opacity":1}},
   {"data":{"values":[{"x":0.043,"y":1.008,"label":"JS distance"},{"x":0.043,"y":0.88,"label":"burst-only"},{"x":0.079,"y":0.038,"label":"Quiescent"}]},"mark":{"type":"text"},"encoding":{"text":{"field":"label"}}},
   {"data":{"values":[{"x":0.429,"y":0.609,"label":"Touch"}]},"mark":{"type":"text","color":"#27aae1"},"encoding":{"text":{"field":"label"}}},
   {"data":{"values":[{"x":-0.357,"y":1.038,"label":"n)"}]},"mark":{"type":"text","fontWeight":"bold","fontSize":18},"encoding":{"text":{"field":"label"}}}
  ]
 },
 {
  "width":133,"height":132,
  "encoding":{
   "x":{"field":"x","type":"quantitative","scale":{"domain":[0.526,5.783],"nice":false,"zero":false},"axis":{"values":[1,2,3,4,5],"labelExpr":"['','2/3','4','5st','5tt','6'][datum.value]","ticks":false,"domain":false,"labelPadding":8,"titlePadding":5,"title":"Cell-type"}},
   "y":{"field":"y","type":"quantitative","scale":{"domain":[-0.02,0.1],"nice":false,"zero":false},"axis":{"values":[-0.02,0,0.02,0.04,0.06,0.08,0.1],"labelExpr":"datum.value == 0 ? '0' : (datum.value == 0.1 ? '0.1' : '')","title":["JS distance","burst only (bits)"],"titlePadding":-10}}
  },
  "layer":[
   {"data":{"values":[{"x":0.526,"x2":5.783,"y":0}]},"mark":{"type":"rule","color":"#231f20","strokeWidth":1.2},"encoding":{"x2":{"field":"x2"}}},
   {"data":{"name":"opts"},"mark":{"type":"point","filled":true,"stroke":"#231f20","strokeWidth":1.2,"opacity":1},"encoding":{
     "shape":{"field":"cell","type":"nominal","scale":{"domain":["2/3","4","5st","5tt","6"],"range":["diamond","circle","square","triangle-up","circle"]},"legend":null},
     "fill":{"condition":{"test":"datum.sig","value":"#3aa0d8"},"field":"cell","type":"nominal","scale":{"domain":["2/3","4","5st","5tt","6"],"range":["#231f20","#ffffff","#231f20","#ffffff","#231f20"]},"legend":null},
     "size":{"field":"cell","type":"ordinal","scale":{"domain":["2/3","4","5st","5tt","6"],"range":[80,90,80,110,90]},"legend":null}}},
   {"data":{"values":[{"x":0.645,"y":0.089,"label":"p < 0.01"}]},"mark":{"type":"text","color":"#27aae1","fontSize":15},"encoding":{"text":{"field":"label"}}},
   {"data":{"values":[{"x":-1.648,"y":0.1045,"label":"o)"}]},"mark":{"type":"text","fontWeight":"bold","fontSize":18},"encoding":{"text":{"field":"label"}}}
  ]
 }
]
}
